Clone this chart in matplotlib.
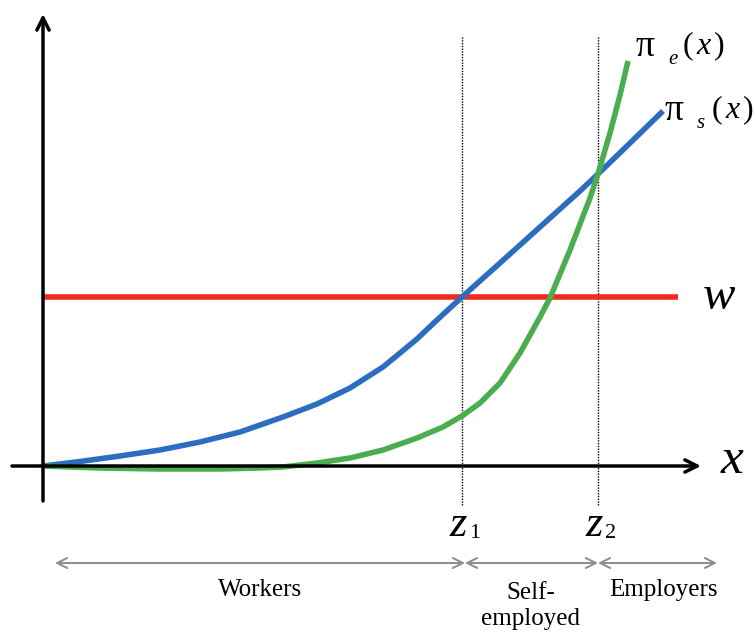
import matplotlib
matplotlib.use("Agg")
import matplotlib.pyplot as plt

plt.rcParams['mathtext.fontset'] = 'custom'
plt.rcParams['mathtext.rm'] = 'Liberation Serif'
plt.rcParams['mathtext.it'] = 'Liberation Serif:italic'

# Data (origin at axis intersection)
x_blue = [0.00, 0.37, 0.77, 1.17, 1.57, 1.97, 2.40, 2.74, 3.07, 3.40, 3.74, 3.94, 4.19,
          4.57, 4.97, 5.37, 5.55, 5.84, 6.20]
y_blue = [0.00, 0.045, 0.10, 0.16, 0.24, 0.34, 0.49, 0.62, 0.78, 0.99, 1.27, 1.46, 1.69,
          2.03, 2.39, 2.75, 2.92, 3.20, 3.55]

x_green = [0.00, 0.57, 1.17, 1.77, 2.15, 2.40, 2.74, 3.07, 3.40, 3.74, 4.00, 4.19, 4.37, 4.57,
           4.77, 4.97, 5.07, 5.17, 5.27, 5.37, 5.47, 5.55, 5.67, 5.77, 5.85]
y_green = [0.00, -0.02, -0.03, -0.03, -0.02, -0.01, 0.03, 0.08, 0.16, 0.28, 0.39, 0.50, 0.63, 0.83,
           1.13, 1.49, 1.68, 1.92, 2.16, 2.42, 2.68, 2.92, 3.33, 3.71, 4.05]

w_level = 1.69
w_xmax = 6.35
z1, z2 = 4.19, 5.55
regions = ["Workers", "Self-\nemployed", "Employers"]
region_bounds = [0.12, 4.22, 5.55, 6.74]

fig = plt.figure(figsize=(7.55, 6.33), dpi=100)
ax = fig.add_axes([0, 0, 1, 1])
ax.set_xlim(-0.43, 7.12)
ax.set_ylim(-1.67, 4.66)
ax.axis('off')

BLUE = '#2d6dc0'
GREEN = '#4aad4f'
RED = '#ee2b1f'
SERIF = 'Liberation Serif'

# axes
ax.annotate('', xy=(6.58, 0), xytext=(-0.31, 0),
            arrowprops=dict(arrowstyle='->', lw=2.5, color='black',
                            mutation_scale=22, shrinkA=0, shrinkB=0))
ax.annotate('', xy=(0, 4.52), xytext=(0, -0.35),
            arrowprops=dict(arrowstyle='->', lw=2.5, color='black',
                            mutation_scale=22, shrinkA=0, shrinkB=0))

# dotted vertical lines
for z in (z1, z2):
    ax.plot([z, z], [-0.39, 4.30], color='black', lw=1.0, ls=(0, (1, 1)))

# curves
ax.plot([0, w_xmax], [w_level, w_level], color=RED, lw=4, solid_capstyle='butt')
ax.plot(x_blue, y_blue, color=BLUE, lw=4, solid_capstyle='butt', solid_joinstyle='round')
ax.plot(x_green, y_green, color=GREEN, lw=4, solid_capstyle='butt', solid_joinstyle='round')

# curve labels
def pi_label(x0, y0, sub):
    ax.text(x0, y0, 'π', fontsize=27, family=SERIF, ha='left', va='center')
    ax.text(x0 + 0.33, y0 - 0.12, sub, fontsize=15, family=SERIF, style='italic',
            ha='left', va='center')
    ax.text(x0 + 0.47, y0 + 0.01, r'$(\,x\!\;)$', fontsize=23, ha='left', va='center')

pi_label(5.92, 4.19, 'e')
pi_label(6.21, 3.55, 's')

ax.text(6.60, w_level, 'w', fontsize=35, family=SERIF, style='italic', ha='left', va='center')
ax.text(6.78, 0.05, 'x', fontsize=37, family=SERIF, style='italic', ha='left', va='center')

for z, lab in ((z1, '1'), (z2, '2')):
    ax.text(z - 0.04, -0.59, 'z', fontsize=32, family=SERIF, style='italic', ha='center', va='center')
    ax.text(z + 0.07, -0.68, lab, fontsize=16, family=SERIF, ha='left', va='center')

# region arrows
ya = -0.97
for i in range(3):
    ax.annotate('', xy=(region_bounds[i + 1], ya), xytext=(region_bounds[i], ya),
                arrowprops=dict(arrowstyle='<->', lw=1.4, color='#8c8c8c',
                                mutation_scale=18, shrinkA=0, shrinkB=0))
ax.text(2.17, -1.24, regions[0], fontsize=18, family=SERIF, ha='center', va='center')
ax.text(4.88, -1.40, regions[1], fontsize=18, family=SERIF, ha='center', va='center',
        linespacing=1.2)
ax.text(6.20, -1.24, regions[2], fontsize=18, family=SERIF, ha='center', va='center')

fig.savefig('out.png', dpi=100)
